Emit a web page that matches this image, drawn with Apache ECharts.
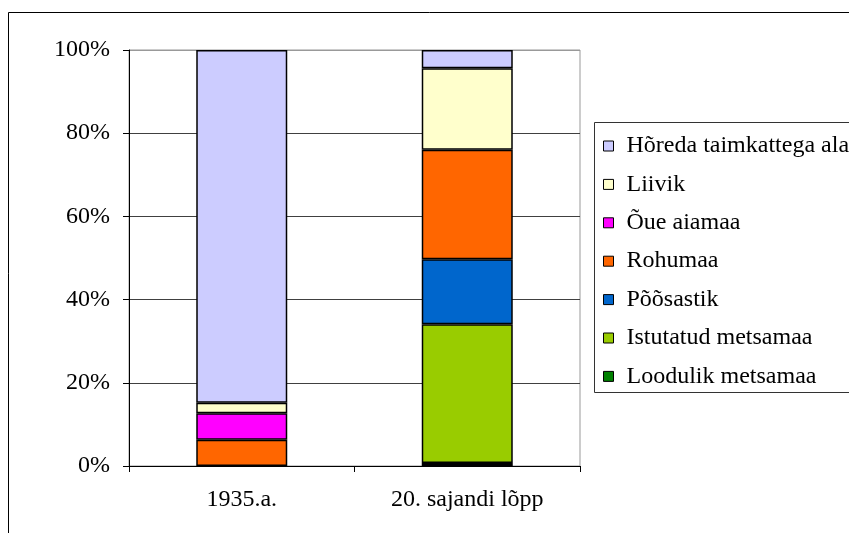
<!DOCTYPE html>
<html><head><meta charset="utf-8">
<script src="https://cdn.jsdelivr.net/npm/echarts@6/dist/echarts.min.js"></script>
<style>html,body{margin:0;padding:0;background:#fff}#c{width:849px;height:533px}</style>
</head><body><div id="c"></div>
<script>
const categories = ['1935.a.', '20. sajandi lõpp'];
const seriesNames = ['Loodulik metsamaa','Istutatud metsamaa','Põõsastik','Rohumaa','Õue aiamaa','Liivik','Hõreda taimkattega ala'];
const loodulik = [null, 0.7];
const istutatud = [null, 33.4];
const poosastik = [null, 15.6];
const rohumaa = [6.3, 26.3];
const oue = [6.4, null];
const liivik = [2.5, 19.6];
const horeda = [84.8, 4.4];
const colors = ['#008000','#99CC00','#0066CC','#FF6600','#FF00FF','#FFFFCC','#CCCCFF'];
const yTicks = [0, 20, 40, 60, 80, 100];

const values = [loodulik, istutatud, poosastik, rohumaa, oue, liivik, horeda];
const font = "'Liberation Serif', 'Times New Roman', serif";

const chart = echarts.init(document.getElementById('c'), null, {renderer: 'canvas'});
chart.setOption({
  animation: false,
  backgroundColor: '#fff',
  textStyle: {fontFamily: font},
  grid: {left: 129, right: 269, top: 50, bottom: 67, show: true, borderColor: '#999', borderWidth: 1},
  xAxis: {
    type: 'category', data: categories,
    axisLine: {lineStyle: {color: '#000', width: 1}},
    axisTick: {show: true, length: 6, alignWithLabel: false, lineStyle: {color: '#000'}},
    axisLabel: {color: '#000', fontSize: 24, fontFamily: font, margin: 22}
  },
  yAxis: {
    type: 'value', min: yTicks[0], max: yTicks[yTicks.length-1], interval: 20,
    axisLine: {show: true, lineStyle: {color: '#000', width: 1}},
    axisTick: {show: true, length: 6, lineStyle: {color: '#000'}},
    axisLabel: {color: '#000', fontSize: 24, fontFamily: font, margin: 19, formatter: '{value}%'},
    splitLine: {show: true, lineStyle: {color: ['#000','#404040','#404040','#404040','#404040','#999'], width: 1}}
  },
  legend: {
    orient: 'vertical', left: 598, top: 129,
    data: seriesNames.slice().reverse(),
    icon: 'rect', itemWidth: 10, itemHeight: 10, itemGap: 14.4,
    itemStyle: {borderColor: '#000', borderWidth: 1},
    textStyle: {color: '#000', fontSize: 24, fontFamily: font, lineHeight: 24, padding: [0,0,0,8]}
  },
  graphic: [
    {type: 'rect', shape: {x: 8.5, y: 12.5, width: 1000, height: 700}, style: {fill: 'none', stroke: '#000', lineWidth: 1}, z: -1, silent: true},
    {type: 'rect', shape: {x: 594.5, y: 122.5, width: 400, height: 270}, style: {fill: 'none', stroke: '#333', lineWidth: 1}, silent: true}
  ],
  series: seriesNames.map((n, i) => ({
    name: n, type: 'bar', stack: 'total', data: values[i], barWidth: 91,
    itemStyle: {color: colors[i], borderColor: '#000', borderWidth: 1.5}
  }))
});
</script></body></html>
